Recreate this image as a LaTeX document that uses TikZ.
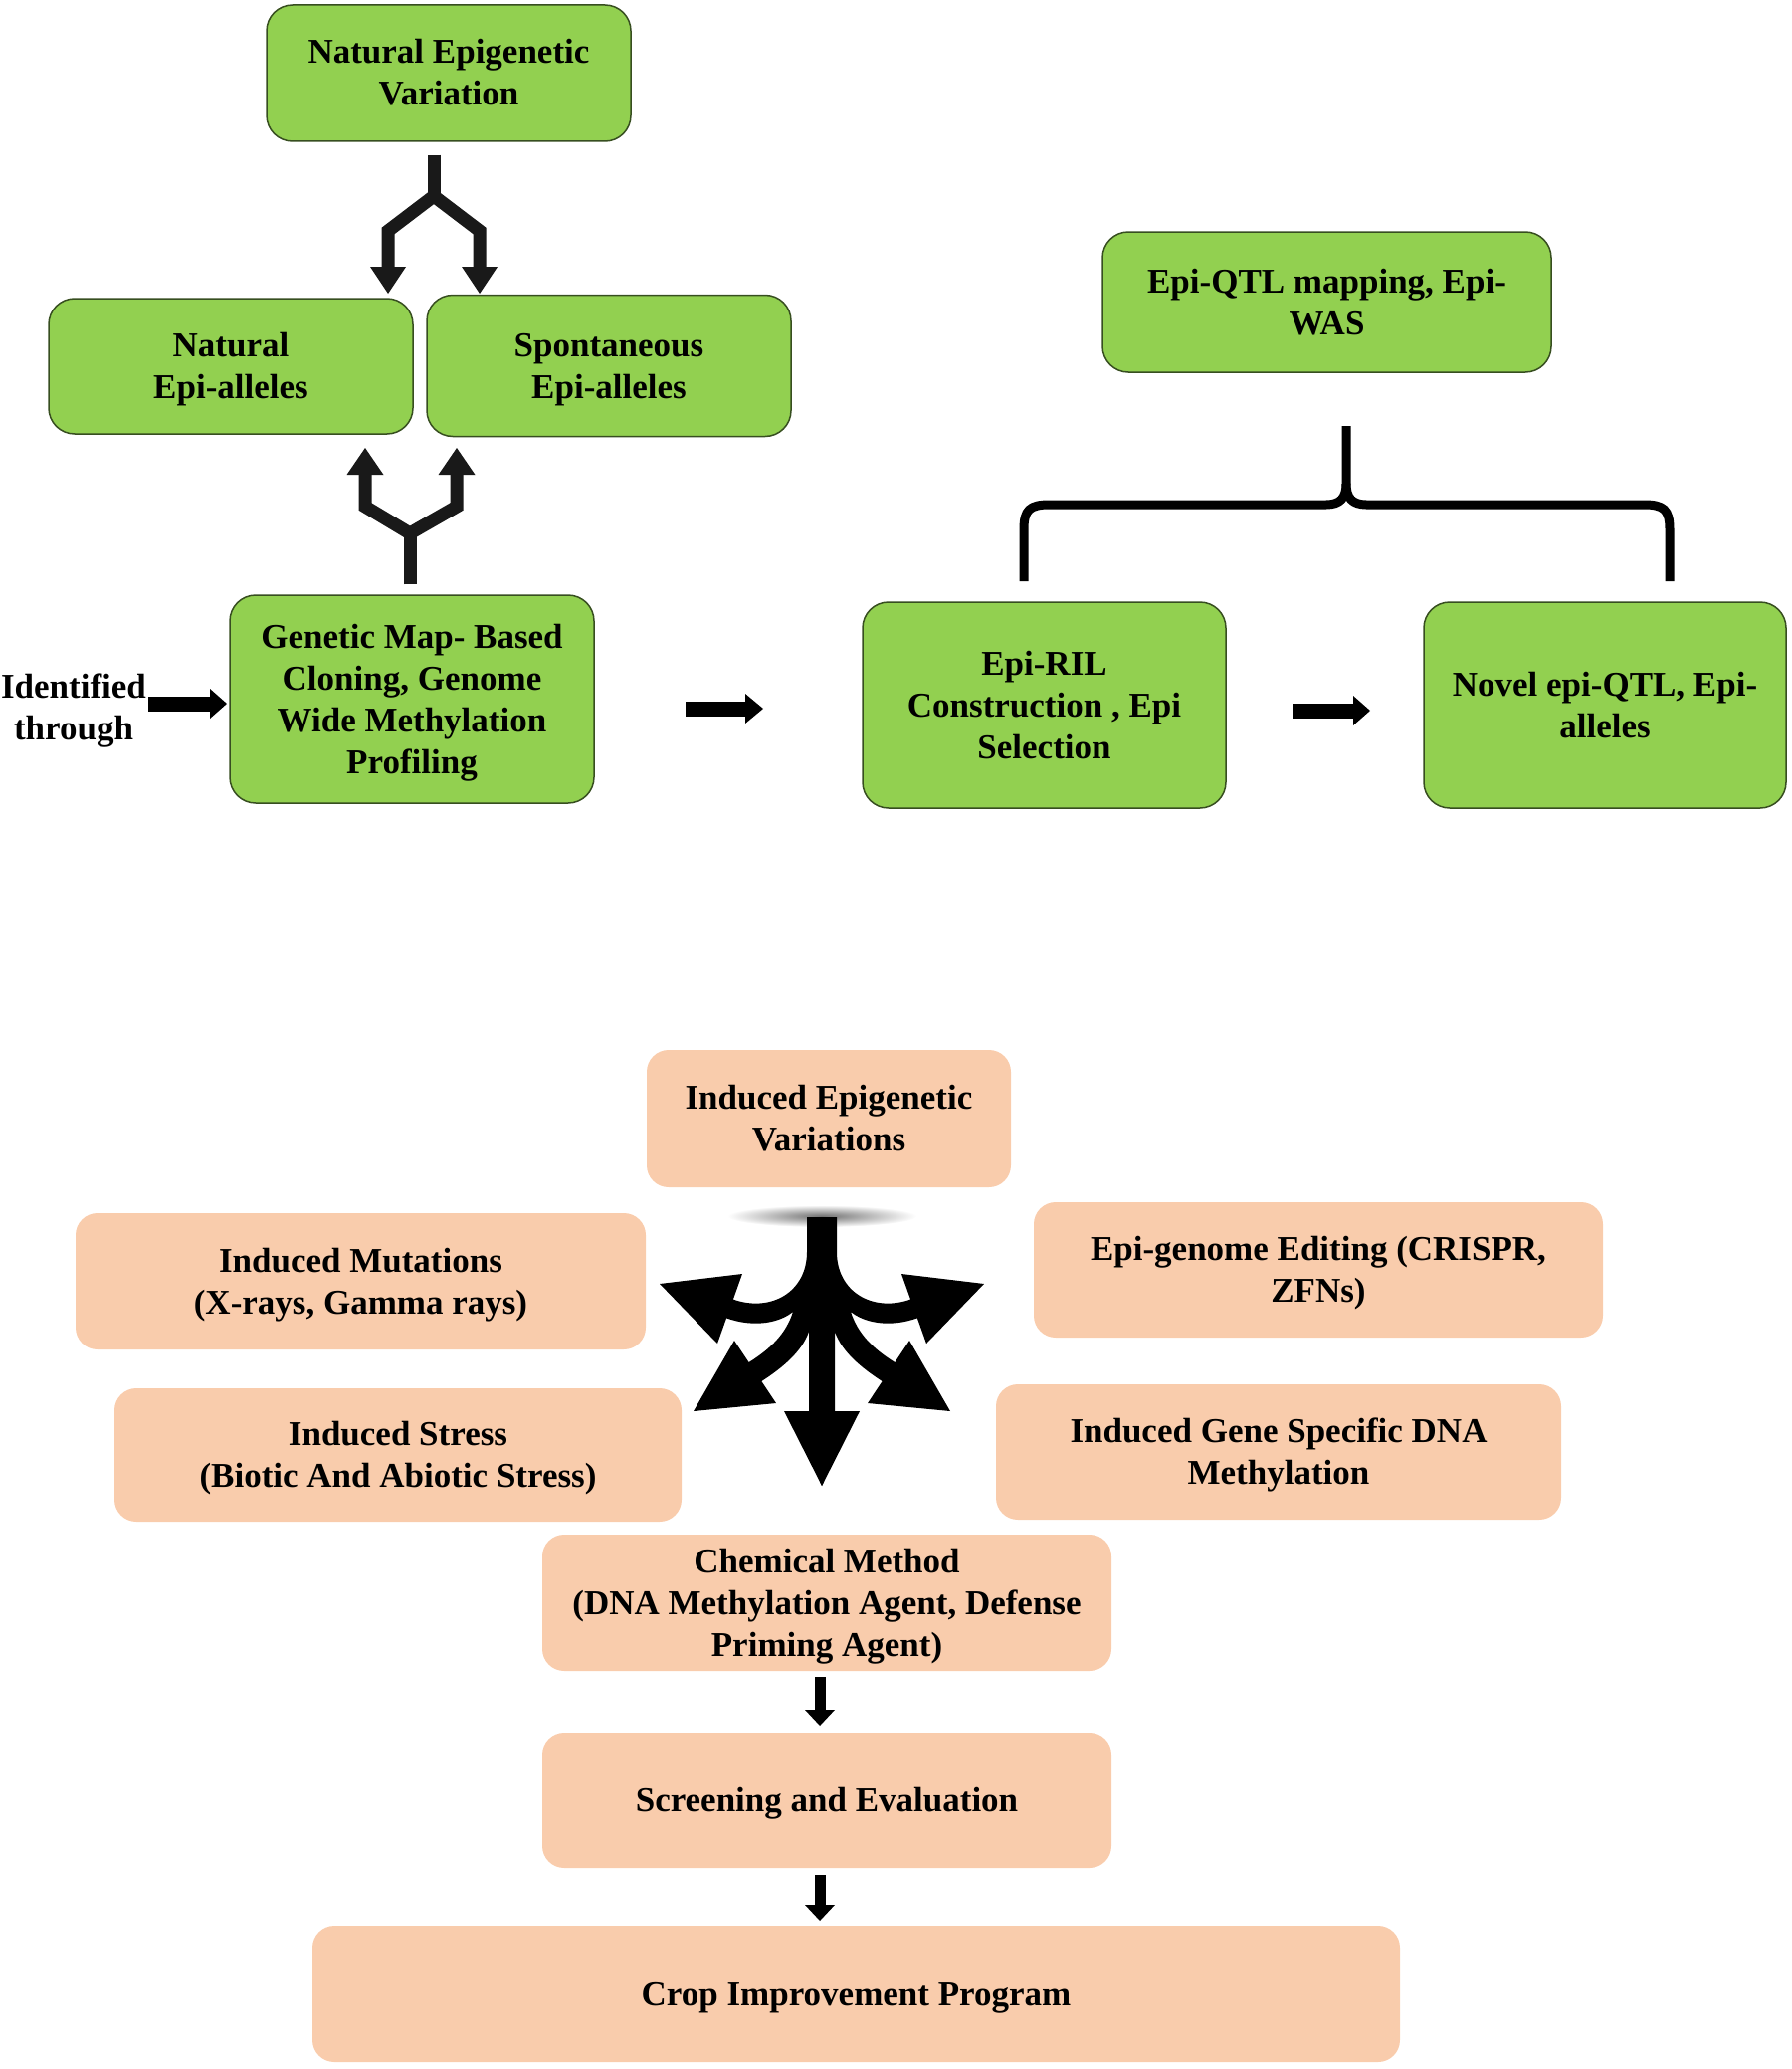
\documentclass[tikz,border=0pt]{standalone}
\usepackage{fontspec}
\setmainfont{Liberation Serif}
\usetikzlibrary{calc}
\definecolor{gfill}{RGB}{146,208,80}
\definecolor{gline}{RGB}{55,78,32}
\definecolor{pfill}{RGB}{249,204,172}
\definecolor{ink}{RGB}{25,25,25}
\newcommand{\mytopstrut}{\rule{0pt}{31pt}}
\newcommand{\mybotstrut}{\rule[-8pt]{0pt}{8pt}}
\newcommand{\starhalfpath}{(828,1223) -- (811,1223) -- (811,1258)
  .. controls (811,1298) and (775,1319) .. (736.9,1305.6)
  -- (746,1280) -- (663,1290) -- (721,1350) -- (730.1,1324.4)
  .. controls (760,1335) and (785,1328) .. (797,1318)
  .. controls (790,1340) and (775,1355) .. (752.6,1369)
  -- (738,1347) -- (697,1418) -- (780,1410) -- (765.4,1388)
  .. controls (787,1374) and (806,1358) .. (813,1338)
  -- (813,1418) -- (788,1418) -- (826,1493) -- (828,1489) -- cycle}
\begin{document}
\begin{tikzpicture}[x=1pt,y=-1pt,
  txt/.style={font=\fontsize{35}{42}\selectfont\bfseries, align=center, text=black},
  gbox/.style={txt, draw=gline, line width=1.5pt, fill=gfill, rounded corners=26pt, inner sep=0pt},
  pbox/.style={txt, fill=pfill, rounded corners=22pt, inner sep=0pt},
  fork/.style={line width=13pt, draw=ink, line join=miter},
  shaft/.style={line width=15pt, draw=black},
  vshaft/.style={line width=11pt, draw=black},
  head/.style={fill=black},
  brace/.style={line width=9pt, draw=black, line join=round}
]
\useasboundingbox (0,0) rectangle (1800,2079);

% ---------- top (green) part ----------
\node[gbox, minimum width=366pt, minimum height=137pt] (nev) at (451,73.5) {\mytopstrut Natural Epigenetic\\Variation\mybotstrut};
\node[gbox, minimum width=366pt, minimum height=136pt] (nat) at (232,368) {\mytopstrut Natural\\Epi-alleles\mybotstrut};
\node[gbox, minimum width=366pt, minimum height=142pt] (spon) at (612,367.5) {\mytopstrut Spontaneous\\Epi-alleles\mybotstrut};
\node[gbox, minimum width=366pt, minimum height=209pt] (gen) at (414,702.5) {\mytopstrut Genetic Map- Based\\Cloning, Genome\\Wide Methylation\\Profiling\mybotstrut};
\node[gbox, minimum width=451pt, minimum height=141pt] (qtl) at (1333.5,303.5) {\mytopstrut Epi-QTL mapping, Epi-\\WAS\mybotstrut};
\node[gbox, minimum width=365pt, minimum height=207pt] (ril) at (1049.5,708.5) {\mytopstrut Epi-RIL\\Construction , Epi\\Selection\mybotstrut};
\node[gbox, minimum width=364pt, minimum height=207pt] (novel) at (1613,708.5) {\mytopstrut Novel epi-QTL, Epi-\\alleles\mybotstrut};
\node[txt] (ident) at (74,714) {Identified\\through};

% fork: Natural Epigenetic Variation -> two epi-allele boxes
\coordinate (f1top) at ($(nev.south)+(-15,13)$);
\coordinate (f1mid) at (436,197);
\draw[fork] (f1top) -- (f1mid);
\draw[fork] (390,270) -- (390,232) -- (f1mid) -- (482,232) -- (482,270);
\fill[ink] (372,268) -- (408,268) -- (390,295) -- cycle;
\fill[ink] (464,268) -- (500,268) -- (482,295) -- cycle;

% fork: Genetic map box -> two epi-allele boxes
\coordinate (f2bot) at ($(gen.north)+(-2,-10)$);
\coordinate (f2mid) at (412,536);
\draw[fork] (f2bot) -- (f2mid);
\draw[fork] (367,475) -- (367,509) -- (f2mid) -- (459,509) -- (459,475);
\fill[ink] (348.5,477) -- (385.5,477) -- (367,450) -- cycle;
\fill[ink] (440.5,477) -- (477.5,477) -- (459,450) -- cycle;

% horizontal arrows
\coordinate (a1s) at (149,707); \coordinate (a1e) at (213,707);
\draw[shaft] (a1s) -- (a1e);
\fill[head] (211,692) -- (211,722) -- (228,707) -- cycle;
\coordinate (a2s) at (689,712); \coordinate (a2e) at (751,712);
\draw[shaft] (a2s) -- (a2e);
\fill[head] (749,697) -- (749,727) -- (767,712) -- cycle;
\coordinate (a3s) at (1299,714); \coordinate (a3e) at (1362,714);
\draw[shaft] (a3s) -- (a3e);
\fill[head] (1360,699) -- (1360,729) -- (1377,714) -- cycle;

% brace under Epi-QTL mapping
\coordinate (btop) at (1353,428);
\coordinate (bl) at (1029,584);
\coordinate (br) at (1678,584);
\draw[brace] (bl) -- (1029,532) .. controls (1029,512) and (1035,507) .. (1055,507)
  -- (1333,507) .. controls (1347,507) and (1353,500) .. (1353,486) -- (btop);
\draw[brace] (br) -- (1678,532) .. controls (1678,512) and (1672,507) .. (1652,507)
  -- (1373,507) .. controls (1359,507) and (1353,500) .. (1353,486);

% ---------- bottom (peach) part ----------
\node[pbox, minimum width=366pt, minimum height=138pt] (iev) at (833,1124) {\mytopstrut Induced Epigenetic\\Variations\mybotstrut};
\node[pbox, minimum width=573pt, minimum height=137pt] (imut) at (362.5,1287.5) {\mytopstrut Induced Mutations\\(X-rays, Gamma rays)\mybotstrut};
\node[pbox, minimum width=572pt, minimum height=136pt] (edit) at (1325,1276) {\mytopstrut Epi-genome Editing (CRISPR,\\ZFNs)\mybotstrut};
\node[pbox, minimum width=570pt, minimum height=134pt] (stress) at (400,1462) {\mytopstrut Induced Stress\\(Biotic And Abiotic Stress)\mybotstrut};
\node[pbox, minimum width=568pt, minimum height=136pt] (igene) at (1285,1459) {\mytopstrut Induced Gene Specific DNA\\Methylation\mybotstrut};
\node[pbox, minimum width=572pt, minimum height=137pt] (chem) at (831,1610.5) {\mytopstrut Chemical Method\\(DNA Methylation Agent, Defense\\Priming Agent)\mybotstrut};
\node[pbox, minimum width=572pt, minimum height=136pt] (screen) at (831,1809) {\mytopstrut Screening and Evaluation\mybotstrut};
\node[pbox, minimum width=1093pt, minimum height=137pt] (crop) at (860.5,2003.5) {\mytopstrut Crop Improvement Program\mybotstrut};

% star of arrows from Induced Epigenetic Variations
\shade[inner color=black!55, outer color=white] (826,1222) ellipse [x radius=95pt, y radius=11pt];
\coordinate (sc) at ($(iev.south)+(-7,30)$);
\fill[black] \starhalfpath;
\begin{scope}[shift={(1652,0)}, xscale=-1]
  \fill[black] \starhalfpath;
\end{scope}

% vertical arrows
\coordinate (v1s) at ($(chem.south)+(-7,6)$);
\coordinate (v1e) at (824,1720);
\draw[vshaft] (v1s) -- (v1e);
\fill[head] (809,1718) -- (839,1718) -- (824,1734) -- cycle;
\coordinate (v2s) at ($(screen.south)+(-7,7)$);
\coordinate (v2e) at (824,1916);
\draw[vshaft] (v2s) -- (v2e);
\fill[head] (809,1914) -- (839,1914) -- (824,1930) -- cycle;
\end{tikzpicture}
\end{document}
